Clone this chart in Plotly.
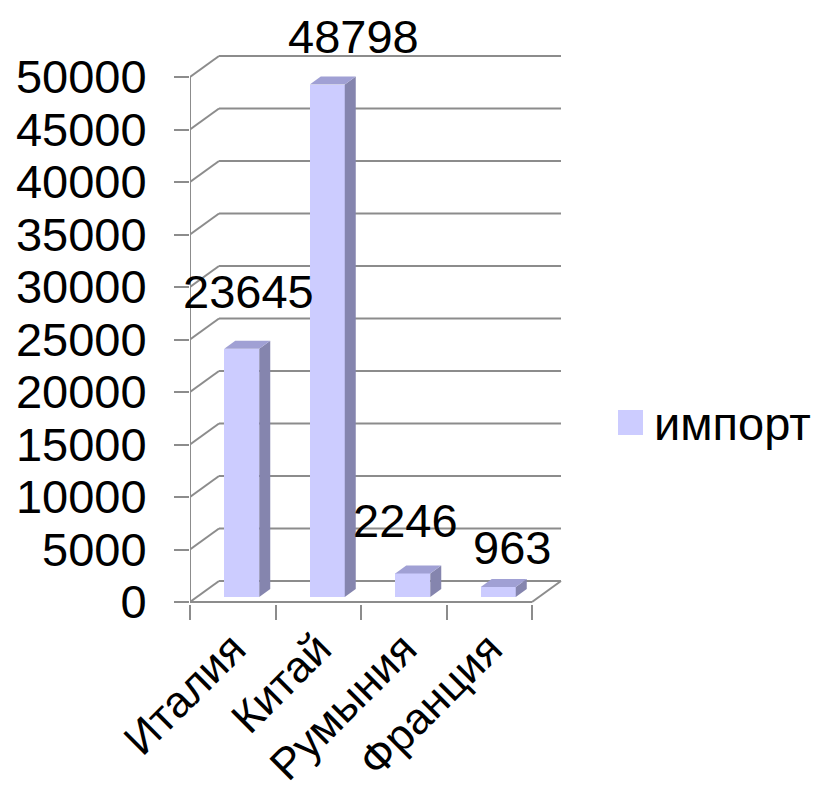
import plotly.graph_objects as go
import numpy as np

# ---- data ----
categories = ["Италия", "Китай", "Румыния", "Франция"]
values = [23645, 48798, 2246, 963]
series_name = "импорт"
y_ticks = list(range(0, 50001, 5000))
y_tick_labels = [str(t) for t in y_ticks]

# ---- styling / geometry (pixel-based pseudo-3D) ----
FONT = "Liberation Sans, Arial, sans-serif"
FS = 47
FS_X = 44
FRONT = "#CCCCFF"
SIDE = "#8585AE"
TOP = "#A0A0D4"
GRID = "#8C8C8C"

PX_X = 1 / 85.5            # data units per pixel (x)
PX_Y = 5000 / 52.5         # data units per pixel (y)
WALL_DX, WALL_DY = 29 * PX_X, 21 * PX_Y
BAR_OFF_Y = 5 * PX_Y
BAR_LEFT = -8.5 * PX_X
BAR_W = 35 * PX_X
SIDE_DX, SIDE_DY = 11 * PX_X, 8 * PX_Y

n = len(categories)
xs = np.arange(n, dtype=float)
vals = np.array(values, dtype=float)

fig = go.Figure()

# front faces
fig.add_trace(go.Bar(
    x=xs + BAR_LEFT + BAR_W / 2, y=vals, base=BAR_OFF_Y, width=BAR_W,
    marker=dict(color=FRONT, line=dict(width=0)), showlegend=False,
    hoverinfo="skip"))

# side and top faces
sx, sy, tx, ty = [], [], [], []
for x, v in zip(xs, vals):
    x0 = x + BAR_LEFT
    x1 = x0 + BAR_W
    yb = BAR_OFF_Y
    yt = BAR_OFF_Y + v
    sx += [x1, x1 + SIDE_DX, x1 + SIDE_DX, x1, x1, None]
    sy += [yb, yb + SIDE_DY, yt + SIDE_DY, yt, yb, None]
    tx += [x0, x1, x1 + SIDE_DX, x0 + SIDE_DX, x0, None]
    ty += [yt, yt, yt + SIDE_DY, yt + SIDE_DY, yt, None]
fig.add_trace(go.Scatter(x=sx, y=sy, fill="toself", fillcolor=SIDE, mode="lines",
                         line=dict(width=0, color=SIDE), showlegend=False, hoverinfo="skip"))
fig.add_trace(go.Scatter(x=tx, y=ty, fill="toself", fillcolor=TOP, mode="lines",
                         line=dict(width=0, color=TOP), showlegend=False, hoverinfo="skip"))

# walls / gridlines as shapes below traces
shapes = []
xl = -0.5
xr = n - 0.5
lw = dict(color=GRID, width=2)
for t in y_ticks:
    shapes.append(dict(type="line", xref="x", yref="y", x0=xl, y0=t,
                       x1=xl + WALL_DX, y1=t + WALL_DY, line=lw, layer="below"))
    shapes.append(dict(type="line", xref="x", yref="y", x0=xl + WALL_DX, y0=t + WALL_DY,
                       x1=xr + WALL_DX, y1=t + WALL_DY, line=lw, layer="below"))
# floor front edge and right edge
shapes.append(dict(type="line", xref="x", yref="y", x0=xl, y0=0, x1=xr, y1=0, line=lw, layer="below"))
shapes.append(dict(type="line", xref="x", yref="y", x0=xr, y0=0, x1=xr + WALL_DX, y1=WALL_DY,
                   line=lw, layer="below"))
# vertical axis line
shapes.append(dict(type="line", xref="x", yref="y", x0=xl, y0=0, x1=xl, y1=y_ticks[-1],
                   line=lw, layer="below"))

# legend (custom, large)
shapes.append(dict(type="rect", xref="paper", yref="paper", x0=1.1117, x1=1.1766,
                   y0=0.2944, y1=0.338, fillcolor=FRONT, line=dict(width=0)))

# data labels
lab_dx = [1, 21, -13, 8]
lab_dy = [49, 40, 45, 31]
annotations = []
for x, v, dx, dy in zip(xs, vals, lab_dx, lab_dy):
    annotations.append(dict(
        x=x + BAR_LEFT + BAR_W / 2 + SIDE_DX / 2, y=BAR_OFF_Y + v + SIDE_DY,
        xref="x", yref="y", text=f"{int(v)}", showarrow=False,
        xshift=dx, yshift=dy, xanchor="center", yanchor="middle",
        font=dict(family=FONT, size=FS, color="black")))
annotations.append(dict(x=1.2, y=0.3153, xref="paper", yref="paper", text=series_name,
                        showarrow=False, xanchor="left", yanchor="middle",
                        font=dict(family=FONT, size=FS, color="black")))

# page body adds an 8px margin around the figure
W, H = 803, 791
L, R, T, B = 182, 236, 22, 195
plot_w = W - L - R
plot_h = H - T - B

fig.update_layout(
    width=W, height=H,
    margin=dict(l=L, r=R, t=T, b=B, pad=0, autoexpand=False),
    paper_bgcolor="white", plot_bgcolor="white",
    showlegend=False,
    shapes=shapes, annotations=annotations,
    font=dict(family=FONT, size=FS, color="black"),
    xaxis=dict(range=[xl, xl + plot_w * PX_X], tickvals=list(xs), ticktext=categories,
               automargin=False,
               tickangle=-45, ticks="", showgrid=False, zeroline=False, showline=False,
               ticklabelstandoff=9,
               tickfont=dict(family=FONT, size=FS_X, color="black"),
               minor=dict(tickvals=[i - 0.5 for i in range(n + 1)], ticks="outside",
                          ticklen=15, tickwidth=2, tickcolor=GRID, showgrid=False)),
    yaxis=dict(range=[-2 * PX_Y, (plot_h - 2) * PX_Y], tickvals=y_ticks,
               ticktext=y_tick_labels, automargin=False,
               ticks="outside", ticklen=15, tickwidth=2, tickcolor=GRID,
               showgrid=False, zeroline=False, showline=False,
               ticklabelstandoff=18,
               tickfont=dict(family=FONT, size=FS, color="black")),
    bargap=0,
)

fig.write_html("out.html")
